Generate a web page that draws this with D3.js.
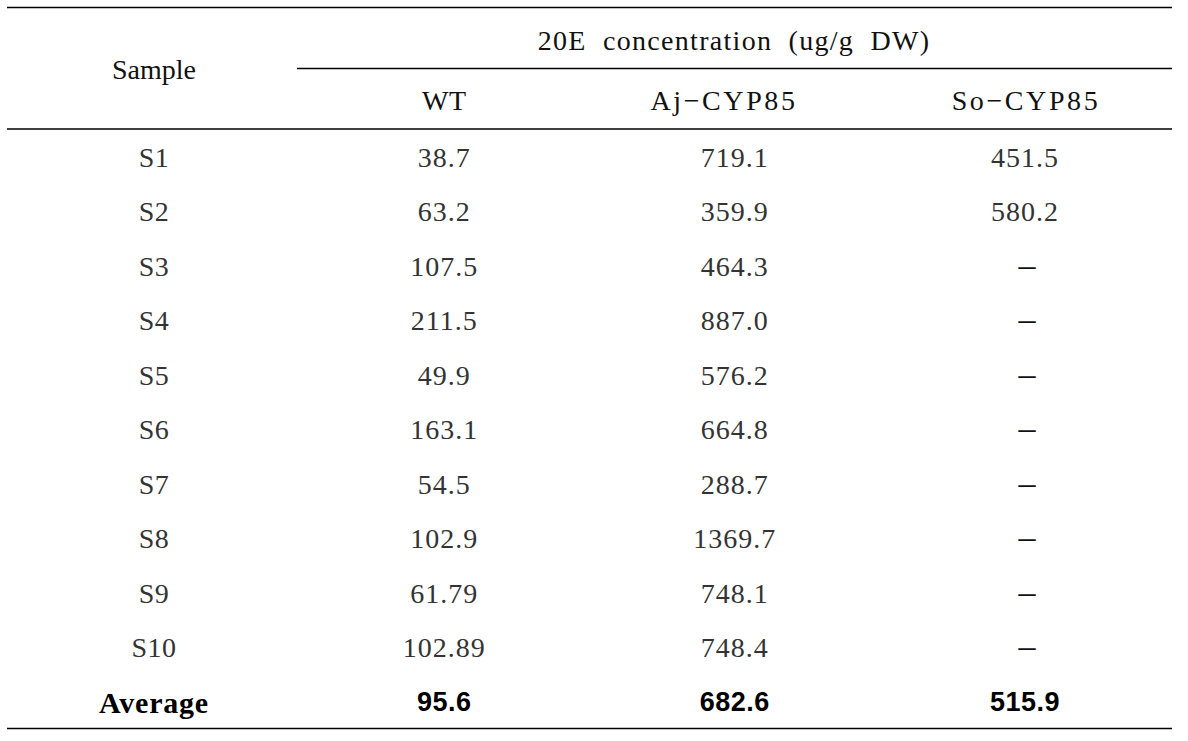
<!DOCTYPE html>
<html><head><meta charset="utf-8">
<script src="https://cdn.jsdelivr.net/npm/d3@7"></script>
<style>body{margin:0;background:#fff;} svg{display:block;}</style>
</head><body>
<svg id="c" width="1188" height="741"></svg>
<script>
const columns = ["WT", "Aj\u2212CYP85", "So\u2212CYP85"];
const samples = ["S1","S2","S3","S4","S5","S6","S7","S8","S9","S10"];
const wt = ["38.7","63.2","107.5","211.5","49.9","163.1","54.5","102.9","61.79","102.89"];
const aj = ["719.1","359.9","464.3","887.0","576.2","664.8","288.7","1369.7","748.1","748.4"];
const so = ["451.5","580.2","\u2013","\u2013","\u2013","\u2013","\u2013","\u2013","\u2013","\u2013"];
const averageLabel = "Average";
const averages = ["95.6","682.6","515.9"];
const groupTitle = "20E concentration (ug/g DW)";
const firstHeader = "Sample";

const svg = d3.select("#c");
const serif = "'Liberation Serif','DejaVu Serif',serif";
const x = d3.scalePoint().domain([firstHeader, ...columns]).range([154, 1025]);
const rows = [...samples, averageLabel];
const y = d3.scalePoint().domain(rows).range([157, 702]);

const L = 7, R = 1172;
function hline(y0, x0, x1, w){ svg.append("line").attr("x1",x0).attr("x2",x1).attr("y1",y0).attr("y2",y0).attr("stroke","#000").attr("stroke-width",w); }
hline(7.5, L, R, 1.5);
hline(68.5, 297, R, 1.5);
hline(129, L, R, 1.5);
hline(728.5, L, R, 1.5);

function txt(s, cx, cy, opts={}){
  svg.append("text").attr("x",cx).attr("y",cy).attr("text-anchor","middle").attr("dominant-baseline","central")
    .attr("font-family", opts.family||serif).attr("font-size", opts.size||28)
    .attr("font-weight", opts.weight||"normal").attr("fill", opts.fill||"#000")
    .attr("letter-spacing", opts.ls||0).attr("word-spacing", opts.ws||0).text(s);
}
txt(firstHeader, x(firstHeader), 69, {fill:"#111"});
txt(groupTitle, 734, 40, {fill:"#111", ls:1.3, ws:8});
txt(columns[0], x(columns[0]), 100, {fill:"#111", ls:0.5});
txt(columns[1], 724, 100, {fill:"#111", ls:2.6});
txt(columns[2], 1026, 100, {fill:"#111", ls:2.6});

const series = [wt, aj, so];
samples.forEach((s,i) => {
  txt(s, x(firstHeader), y(s), {fill:"#333", ls:0.5});
  series.forEach((arr,j) => {
    const isDash = arr[i] === "\u2013";
    txt(arr[i], x(columns[j]) + (isDash ? 2 : 0), y(s) + (isDash ? -2 : 0), {fill: isDash ? "#111" : "#333", ls: isDash ? 0 : 1, size: isDash ? 34 : 28});
  });
});
txt(averageLabel, x(firstHeader), y(averageLabel), {weight:"bold", fill:"#000", size:30, ls:0.8});
averages.forEach((v,j) => txt(v, x(columns[j]), y(averageLabel), {weight:"bold", family:"'Liberation Sans','DejaVu Sans',sans-serif", size:27, fill:"#000", ls:0.5}));
</script>
</body></html>
